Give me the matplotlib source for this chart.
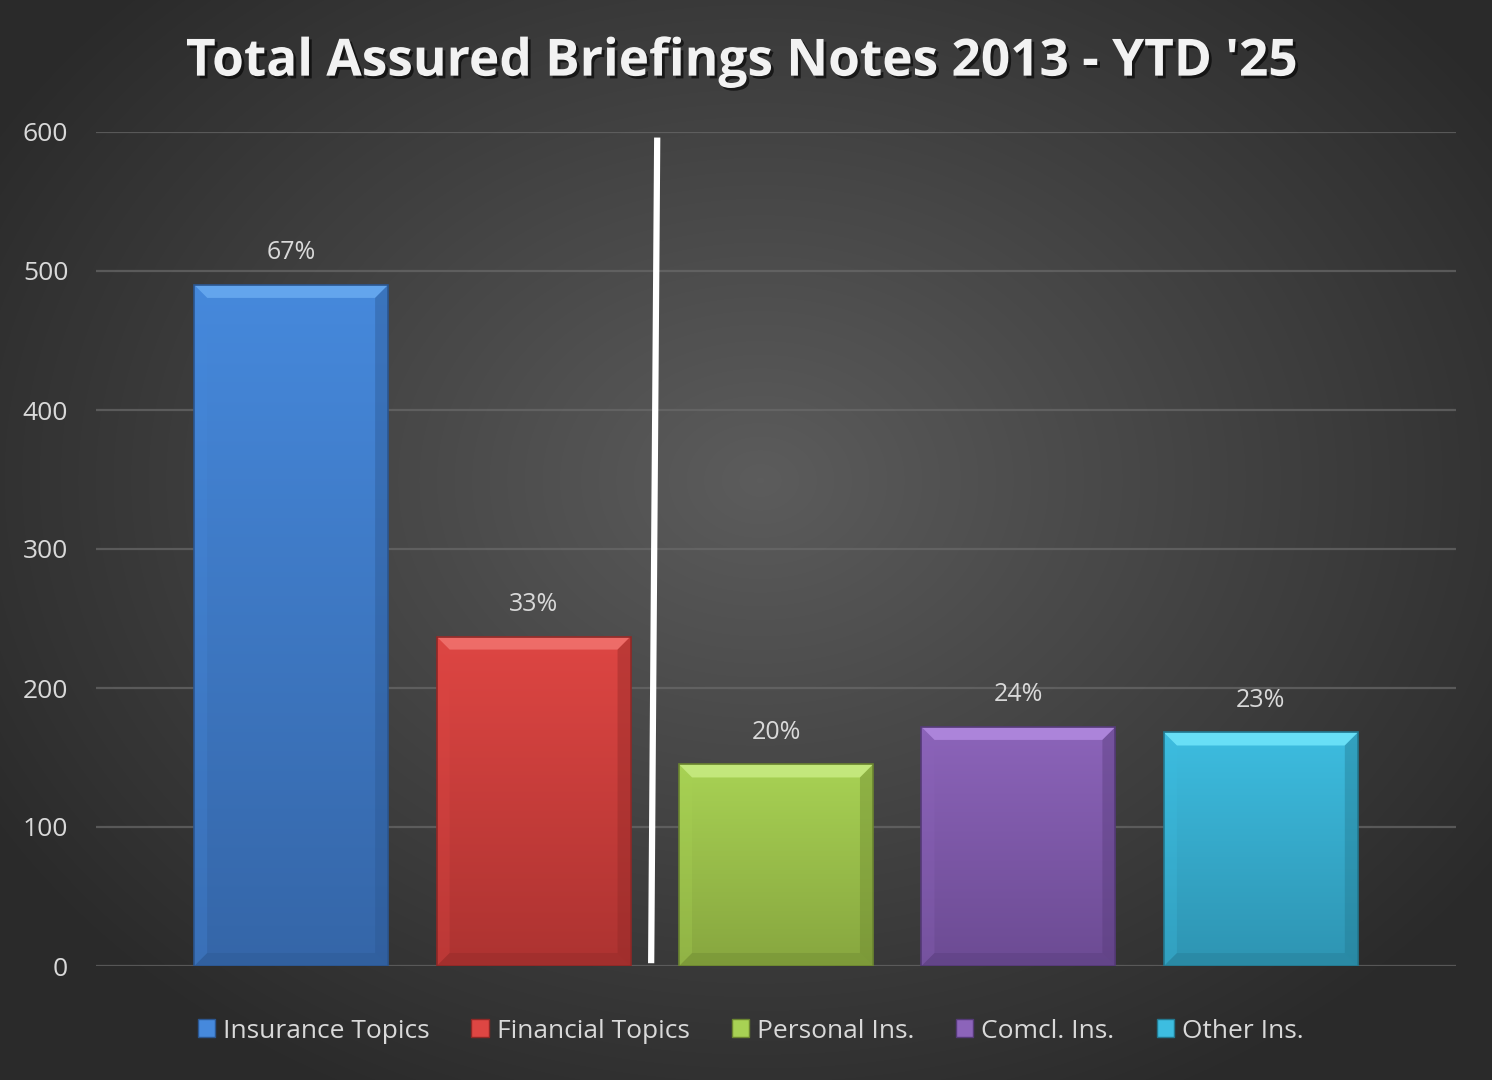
import matplotlib
matplotlib.use("Agg")
import matplotlib.pyplot as plt
import matplotlib.patheffects as pe
import numpy as np
from matplotlib.patches import Polygon, Rectangle
from matplotlib.colors import LinearSegmentedColormap

categories = ["Insurance Topics", "Financial Topics", "Personal Ins.", "Comcl. Ins.", "Other Ins."]
values = [490, 237, 145, 172, 168]
pct_labels = ["67%", "33%", "20%", "24%", "23%"]
# top / bottom / bevel highlight
face_top = ["#4689dc", "#de4643", "#a8d254", "#8c64ba", "#3dbde0"]
face_bot = ["#3566a8", "#ad3331", "#87a63f", "#6c4b93", "#2e94b2"]
bevel_hi = ["#6eb0f4", "#f47a76", "#cdf08a", "#b890e6", "#78ecff"]
edge_col = ["#2b5690", "#8e2826", "#6b8530", "#553a78", "#23788f"]

plt.rcParams["font.family"] = ["Open Sans", "DejaVu Sans"]
TXT = "#d9d9d9"

fig = plt.figure(figsize=(14.92, 10.8), dpi=100)

# radial gradient background
bg = fig.add_axes([0, 0, 1, 1], zorder=0)
yy, xx = np.mgrid[0:1080, 0:1492]
r = np.sqrt(((xx - 760) / 900.0) ** 2 + ((yy - 480) / 700.0) ** 2)
r = np.clip(r, 0, 1)
bg_cmap = LinearSegmentedColormap.from_list("bg", ["#5c5c5c", "#2a2a2a"])
bg.imshow(r, cmap=bg_cmap, aspect="auto", extent=(0, 1, 0, 1), origin="upper")
bg.axis("off")

ax = fig.add_axes([96 / 1492, 1 - 966 / 1080, 1360 / 1492, (966 - 132) / 1080], zorder=1)
ax.patch.set_alpha(0)
ax.set_xlim(-0.805, 4.805)
ax.set_ylim(0, 600)
ax.set_yticks(range(0, 601, 100))
ax.set_xticks([])
for s in ax.spines.values():
    s.set_visible(False)
ax.yaxis.grid(True, color="#6a6a6a", linewidth=1.6, alpha=0.7)
ax.set_axisbelow(True)
ax.tick_params(axis="y", length=0, pad=20, labelsize=19, labelcolor=TXT)

width = 0.8
x = np.arange(len(categories))
bars = ax.bar(x, values, width=width, color="none", zorder=3)

fig.canvas.draw()
# bevel size in data units (about 13 px)
px_per_x = ax.transData.transform((1, 0))[0] - ax.transData.transform((0, 0))[0]
px_per_y = ax.transData.transform((0, 1))[1] - ax.transData.transform((0, 0))[1]
bx = 13 / px_per_x
by = 13 / px_per_y

for i, b in enumerate(bars):
    x0, x1 = b.get_x(), b.get_x() + b.get_width()
    h = b.get_height()
    cmap = LinearSegmentedColormap.from_list("f%d" % i, [face_bot[i], face_top[i]])
    grad = np.linspace(0, 1, 256).reshape(-1, 1)
    im = ax.imshow(grad, cmap=cmap, aspect="auto", origin="lower",
                   extent=(x0, x1, 0, h), zorder=3)
    im.set_clip_path(b)
    # bevels
    top_poly = [(x0, h), (x1, h), (x1 - bx, h - by), (x0 + bx, h - by)]
    ax.add_patch(Polygon(top_poly, closed=True, facecolor=bevel_hi[i], edgecolor="none", alpha=0.75, zorder=4))
    bot_poly = [(x0, 0), (x1, 0), (x1 - bx, by), (x0 + bx, by)]
    ax.add_patch(Polygon(bot_poly, closed=True, facecolor=edge_col[i], edgecolor="none", alpha=0.35, zorder=4))
    left_poly = [(x0, 0), (x0 + bx, by), (x0 + bx, h - by), (x0, h)]
    ax.add_patch(Polygon(left_poly, closed=True, facecolor=face_top[i], edgecolor="none", alpha=0.3, zorder=4))
    right_poly = [(x1, 0), (x1 - bx, by), (x1 - bx, h - by), (x1, h)]
    ax.add_patch(Polygon(right_poly, closed=True, facecolor=edge_col[i], edgecolor="none", alpha=0.4, zorder=4))
    ax.add_patch(Rectangle((x0, 0), x1 - x0, h, facecolor="none", edgecolor=edge_col[i], linewidth=1.2, zorder=5))
    ax.text(b.get_x() + b.get_width() / 2, h + 14, pct_labels[i], ha="center", va="bottom",
            fontsize=18, color=TXT, zorder=6)

# white divider between financial and personal groups
ax.plot([1.51, 1.485], [596, 2], color="white", linewidth=4.5, solid_capstyle="butt", zorder=6)

fig.text(0.497, 0.942, "Total Assured Briefings Notes 2013 - YTD '25", ha="center", va="center",
         fontsize=37, fontweight="bold", color="#f2f2f2",
         path_effects=[pe.SimplePatchShadow(offset=(2, -2), shadow_rgbFace="black", alpha=0.6), pe.Normal()])

handles = [Rectangle((0, 0), 1, 1, facecolor=face_top[i], edgecolor=edge_col[i]) for i in range(len(categories))]
leg = fig.legend(handles, categories, loc="center", bbox_to_anchor=(0.503, 1 - 1031 / 1080), ncol=5,
                 frameon=False, fontsize=19, labelcolor=TXT, handlelength=0.65, handleheight=0.65,
                 handletextpad=0.3, columnspacing=1.6)

fig.savefig("out.png", dpi=100)
